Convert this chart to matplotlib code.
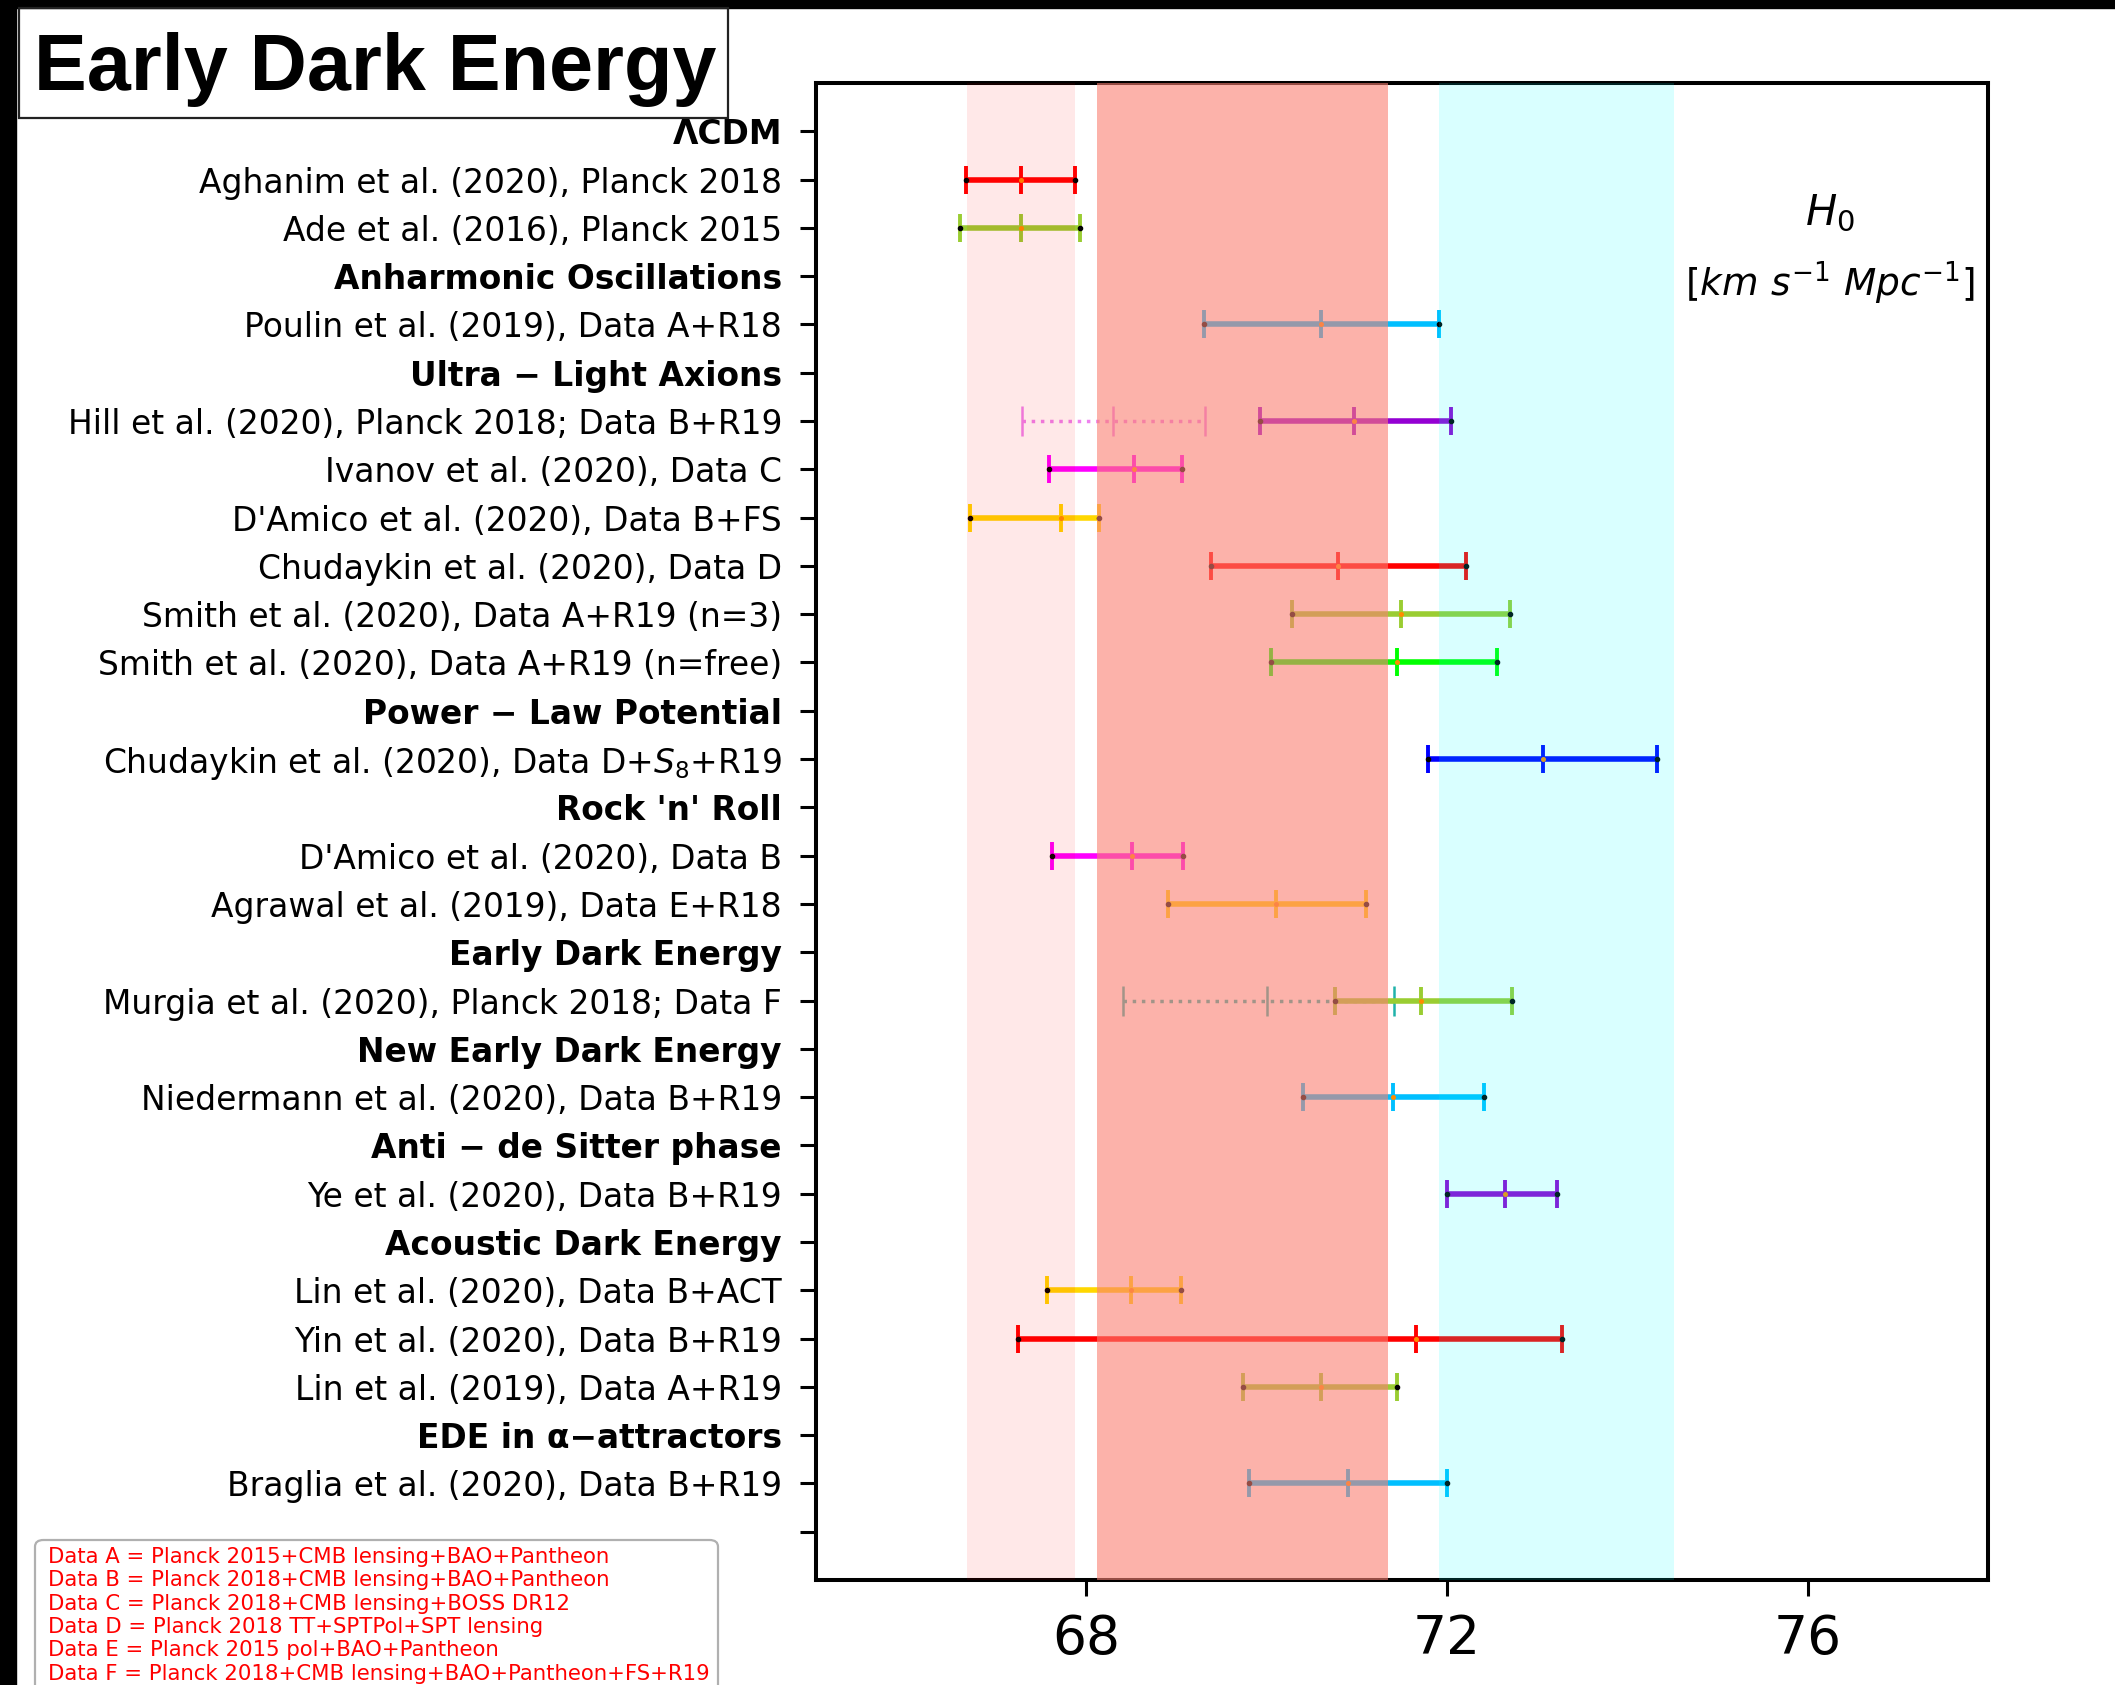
import numpy as np
import matplotlib.pyplot as plt
from matplotlib.patches import Rectangle, FancyBboxPatch

# figure size in pixels
W, H = 2115, 1685

row_labels = [
    "ΛCDM",
    "Aghanim et al. (2020), Planck 2018",
    "Ade et al. (2016), Planck 2015",
    "Anharmonic Oscillations",
    "Poulin et al. (2019), Data A+R18",
    "Ultra − Light Axions",
    "Hill et al. (2020), Planck 2018; Data B+R19",
    "Ivanov et al. (2020), Data C",
    "D'Amico et al. (2020), Data B+FS",
    "Chudaykin et al. (2020), Data D",
    "Smith et al. (2020), Data A+R19 (n=3)",
    "Smith et al. (2020), Data A+R19 (n=free)",
    "Power − Law Potential",
    r"Chudaykin et al. (2020), Data D+$S_8$+R19",
    "Rock 'n' Roll",
    "D'Amico et al. (2020), Data B",
    "Agrawal et al. (2019), Data E+R18",
    "Early Dark Energy",
    "Murgia et al. (2020), Planck 2018; Data F",
    "New Early Dark Energy",
    "Niedermann et al. (2020), Data B+R19",
    "Anti − de Sitter phase",
    "Ye et al. (2020), Data B+R19",
    "Acoustic Dark Energy",
    "Lin et al. (2020), Data B+ACT",
    "Yin et al. (2020), Data B+R19",
    "Lin et al. (2019), Data A+R19",
    "EDE in α−attractors",
    "Braglia et al. (2020), Data B+R19",
    "",
]
header_rows = [0, 3, 5, 12, 14, 17, 19, 21, 23, 27]

# one entry per error bar
bar_rows = [1, 2, 4, 6, 6, 7, 8, 9, 10, 11, 13, 15, 16, 18, 18, 20, 22, 24, 25, 26, 28]
h0_low = [66.66, 66.60, 69.30, 67.28, 69.92, 67.59, 66.71, 69.38, 70.28, 70.05, 71.79,
          67.62, 68.90, 68.40, 70.76, 70.40, 72.00, 67.56, 67.24, 69.74, 69.80]
h0_mid = [67.27, 67.27, 70.60, 68.29, 70.97, 68.53, 67.72, 70.79, 71.49, 71.45, 73.06,
          68.51, 70.10, 70.00, 71.71, 71.40, 72.64, 68.49, 71.66, 70.60, 70.90]
h0_high = [67.87, 67.93, 71.91, 69.31, 72.04, 69.06, 68.14, 72.21, 72.70, 72.55, 74.33,
           69.07, 71.10, 71.41, 72.72, 72.41, 73.22, 69.05, 73.28, 71.45, 72.00]
bar_colors = ["red", "yellowgreen", "deepskyblue", "violet", "darkviolet", "magenta", "gold",
              "red", "yellowgreen", "lime", "blue", "magenta", "gold", "lightseagreen",
              "yellowgreen", "deepskyblue", "darkviolet", "gold", "red", "yellowgreen",
              "deepskyblue"]
bar_dotted = [False, False, False, True, False, False, False, False, False, False, False,
              False, False, True, False, False, False, False, False, False, False]

# reference bands
band_low = [66.67, 68.12, 71.91]
band_high = [67.87, 71.34, 74.52]
band_colors = ["red", "salmon", "cyan"]
band_alpha = [0.09, 0.6, 0.15]

legend_lines = [
    "Data A = Planck 2015+CMB lensing+BAO+Pantheon",
    "Data B = Planck 2018+CMB lensing+BAO+Pantheon",
    "Data C = Planck 2018+CMB lensing+BOSS DR12",
    "Data D = Planck 2018 TT+SPTPol+SPT lensing",
    "Data E = Planck 2015 pol+BAO+Pantheon",
    "Data F = Planck 2018+CMB lensing+BAO+Pantheon+FS+R19",
]


def fx(px):
    return px / W


def fy(py):
    return 1 - py / H


fig = plt.figure(figsize=(W / 100, H / 100), dpi=100)
ax = fig.add_axes([fx(816), fy(1580), fx(1988 - 816), (1580 - 83) / H])

for r, lo, mid, hi, c, dot in zip(bar_rows, h0_low, h0_mid, h0_high, bar_colors, bar_dotted):
    if dot:
        ax.plot([lo, hi], [r, r], ls=":", lw=2.5, color=c, zorder=2)
        ax.plot([lo, mid, hi], [r, r, r], ls="none", marker="|", ms=21, mew=1.8, color=c, zorder=2)
    else:
        ax.plot([lo, hi], [r, r], lw=4, color=c, solid_capstyle="butt", zorder=2)
        ax.plot([lo, mid, hi], [r, r, r], ls="none", marker="|", ms=20, mew=2.8, color=c, zorder=2)
        ax.plot([lo, hi], [r, r], ls="none", marker="o", ms=3, color="black", zorder=2.5)
        ax.plot([mid], [r], ls="none", marker="o", ms=2.6, color="darkorange", zorder=2.5)

# bands sit on top of the bars
for lo, hi, c, a in zip(band_low, band_high, band_colors, band_alpha):
    ax.axvspan(lo, hi, color=c, alpha=a, lw=0, zorder=3)

ax.set_xlim(65, 78)
ax.set_ylim(len(row_labels), -1)
ax.set_xticks([68, 72, 76])
ax.set_yticks(range(len(row_labels)))
ax.set_yticklabels(row_labels)
for i, lab in enumerate(ax.get_yticklabels()):
    if i in header_rows:
        lab.set_fontweight("bold")
ax.tick_params(axis="y", labelsize=23.7, length=11.5, width=2.2, pad=13)
ax.tick_params(axis="x", labelsize=38.5, length=11.5, width=2.2, pad=12)
for s in ax.spines.values():
    s.set_linewidth(2.9)

ax.text(76.25, 1.7, r"$H_0$", fontsize=30, ha="center", va="center")
ax.text(76.25, 3.15, r"$[km\ s^{-1}\ Mpc^{-1}]$", fontsize=27, ha="center", va="center")

# black edges round the figure
fig.patches.append(Rectangle((0, 0), fx(16), 1, transform=fig.transFigure,
                             color="black", zorder=0))
fig.patches.append(Rectangle((0, fy(8)), 1, 8 / H, transform=fig.transFigure,
                             color="black", zorder=0))

# title box
fig.patches.append(Rectangle((fx(19), fy(118)), fx(728 - 19), (118 - 8) / H,
                             transform=fig.transFigure, fill=False,
                             ec="#222222", lw=1.6, zorder=1))
fig.text(fx(34), fy(90), "Early Dark Energy", fontsize=57, fontweight="bold",
         family="Liberation Sans", ha="left", va="baseline")

# data set key
fig.patches.append(FancyBboxPatch((fx(35), fy(1720)), fx(718 - 35), (1720 - 1540) / H,
                                  boxstyle="round,pad=0,rounding_size=0.004",
                                  transform=fig.transFigure, fc="white",
                                  ec="#b0b0b0", lw=1.6, zorder=1))
for k, line in enumerate(legend_lines):
    fig.text(fx(48), fy(1563 + 23.3 * k), line, color="red", fontsize=15.3,
             ha="left", va="baseline")

fig.savefig("out.png", dpi=100)
